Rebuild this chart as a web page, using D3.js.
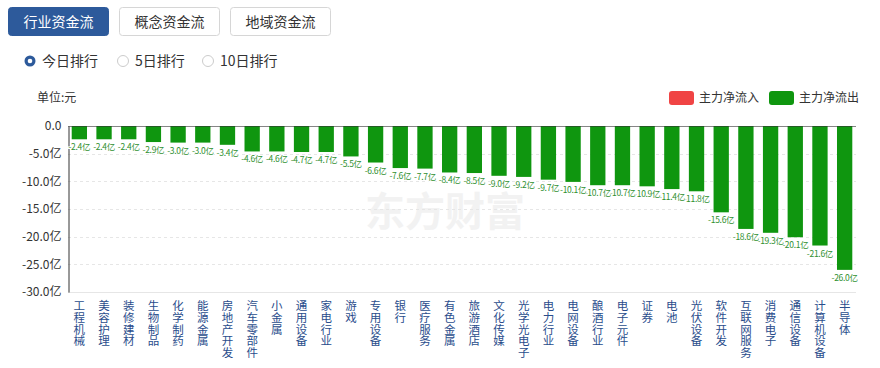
<!DOCTYPE html>
<html><head><meta charset="utf-8">
<script src="https://cdn.jsdelivr.net/npm/d3@7"></script>
<style>body{margin:0;background:#fff;font-family:"Microsoft YaHei","Noto Sans CJK SC",sans-serif;}</style>
</head><body><svg id="c" width="880" height="368"></svg>
<script>
const categories = ["工程机械","美容护理","装修建材","生物制品","化学制药","能源金属","房地产开发","汽车零部件","小金属","通用设备","家电行业","游戏","专用设备","银行","医疗服务","有色金属","旅游酒店","文化传媒","光学光电子","电力行业","电网设备","酿酒行业","电子元件","证券","电池","光伏设备","软件开发","互联网服务","消费电子","通信设备","计算机设备","半导体"];
const values = [-2.4,-2.4,-2.4,-2.9,-3.0,-3.0,-3.4,-4.6,-4.6,-4.7,-4.7,-5.5,-6.6,-7.6,-7.7,-8.4,-8.5,-9.0,-9.2,-9.7,-10.1,-10.7,-10.7,-10.9,-11.4,-11.8,-15.6,-18.6,-19.3,-20.1,-21.6,-26.0];
const yTicks = [0,-5,-10,-15,-20,-25,-30];
const tabs = ["行业资金流","概念资金流","地域资金流"];
const radios = ["今日排行","5日排行","10日排行"];
const legendItems = [{name:"主力净流入",color:"#f04444"},{name:"主力净流出",color:"#0f960f"}];

const svg = d3.select("#c");
const font = '"Microsoft YaHei","Noto Sans CJK SC",sans-serif';

// tabs
const tabX = [8,119,230];
tabs.forEach((t,i)=>{
  const g = svg.append("g");
  g.append("rect").attr("x",tabX[i]+0.5).attr("y",7.5).attr("width",100).attr("height",28).attr("rx",3)
    .attr("fill", i===0?"#2d5a9b":"#fff").attr("stroke", i===0?"#2d5a9b":"#d6d6d6");
  g.append("text").attr("x",tabX[i]+50.5).attr("y",27).attr("text-anchor","middle")
    .attr("font-size",14).attr("font-family",font).attr("fill", i===0?"#fff":"#333").text(t);
});
// radios
const radX = [30,123,208];
radios.forEach((t,i)=>{
  if(i===0){
    svg.append("circle").attr("cx",radX[i]).attr("cy",61).attr("r",5.5).attr("fill","#2d5a9b");
    svg.append("circle").attr("cx",radX[i]).attr("cy",61).attr("r",2.3).attr("fill","#fff");
  } else {
    svg.append("circle").attr("cx",radX[i]).attr("cy",61).attr("r",5.5).attr("fill","#fff").attr("stroke","#ccc");
  }
  svg.append("text").attr("x",radX[i]+12).attr("y",66).attr("font-size",14).attr("font-family",font).attr("fill","#333").text(t);
});

// unit
svg.append("text").attr("x",37).attr("y",102).attr("font-size",12).attr("font-family",font).attr("fill","#333").text("单位:元");

// legend
const lgX = [669,769];
legendItems.forEach((d,i)=>{
  svg.append("rect").attr("x",lgX[i]).attr("y",91).attr("width",25).attr("height",14).attr("rx",3).attr("fill",d.color);
  svg.append("text").attr("x",lgX[i]+30).attr("y",102).attr("font-size",12).attr("font-family",font).attr("fill","#333").text(d.name);
});

// watermark
svg.append("text").attr("x",445).attr("y",226).attr("text-anchor","middle").attr("font-size",40)
  .attr("font-weight","bold").attr("font-family",font).attr("fill","#f2f2f2").text("东方财富");

const x = d3.scaleBand().domain(categories).range([68,856]).paddingInner(0.38).paddingOuter(0.15);
const y = d3.scaleLinear().domain([-30,0]).range([292,126]);

// grid
svg.append("g").selectAll("line").data(yTicks.slice(1)).join("line")
  .attr("x1",68).attr("x2",856).attr("y1",d=>Math.round(y(d))+0.5).attr("y2",d=>Math.round(y(d))+0.5)
  .attr("stroke","#e6e6e6").attr("stroke-dasharray","3,3");
svg.append("line").attr("x1",68).attr("x2",856).attr("y1",292.5).attr("y2",292.5).attr("stroke","#e6e6e6");

// y axis
const yAxis = svg.append("g").attr("transform","translate(68.5,0)")
  .call(d3.axisLeft(y).tickValues(yTicks).tickSize(0).tickPadding(7).tickFormat(d=> d===0?"0.0": d.toFixed(1)+"亿"));
yAxis.select(".domain").attr("stroke","#333");
yAxis.selectAll("text").attr("font-size",12).attr("font-family",font).attr("fill","#333");

// bars
svg.append("g").selectAll("rect").data(values).join("rect")
  .attr("x",(d,i)=>x(categories[i])).attr("width",x.bandwidth())
  .attr("y",y(0)).attr("height",d=>y(d)-y(0)).attr("fill","#0f960f");

// axis line at zero
svg.append("line").attr("x1",68).attr("x2",856).attr("y1",126.5).attr("y2",126.5).attr("stroke","#333").attr("stroke-width",0.6);

// value labels (reverse order so earlier labels cover later)
const idx = d3.range(values.length).reverse();
svg.append("g").selectAll("text").data(idx).join("text")
  .attr("x",i=>x(categories[i])+x.bandwidth()/2).attr("y",i=>y(values[i])+11)
  .attr("text-anchor","middle").attr("font-size",8.5).attr("letter-spacing",-0.3).attr("font-family",font)
  .attr("fill","#2f8f2f").attr("stroke","#fff").attr("stroke-width",2).attr("paint-order","stroke")
  .text(i=>values[i].toFixed(1)+"亿");

// category labels vertical, one character per line
const cg = svg.append("g");
categories.forEach((c,i)=>{
  const t = cg.append("text").attr("font-size",11.5).attr("font-family",font).attr("fill","#2a4d8c").attr("text-anchor","middle");
  Array.from(c).forEach((ch,k)=>{
    t.append("tspan").attr("x",x(c)+x.bandwidth()/2).attr("y",310+k*11.8).text(ch);
  });
});
</script></body></html>
